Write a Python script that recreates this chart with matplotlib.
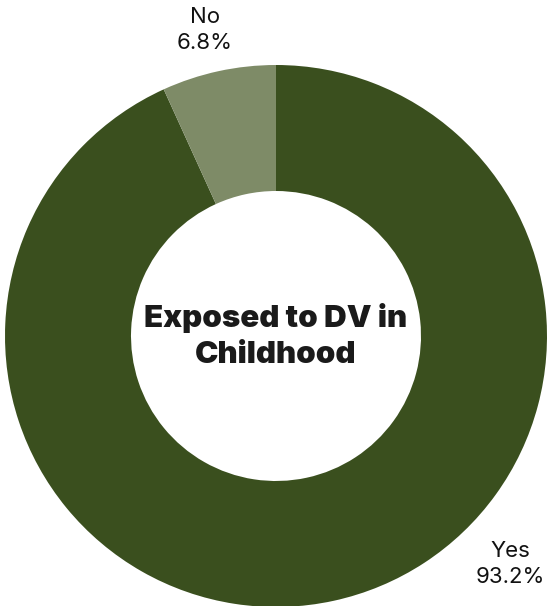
import matplotlib
matplotlib.use("Agg")
import matplotlib.pyplot as plt

labels = ["Yes", "No"]
shares = [93.2, 6.8]
colors = ["#3a4f1e", "#7e8b67"]

W, H = 547, 606
fig = plt.figure(figsize=(W / 100, H / 100), dpi=100)
ax = fig.add_axes([0, 0, 1, 1])

cx, cy, r = 276, H - 336, 271
ax.pie(shares, colors=colors, startangle=90, counterclock=False,
       center=(cx, cy), radius=r,
       wedgeprops=dict(width=r - 145, linewidth=0))
ax.set_xlim(0, W)
ax.set_ylim(0, H)
ax.set_aspect("equal")
ax.axis("off")

ax.text(cx, cy, "Exposed to DV in\nChildhood", ha="center", va="center",
        fontsize=22.5, fontweight="black", family=["Inter", "DejaVu Sans"],
        color="#1a1a1a", linespacing=1.4)

ax.text(205, H - 30, f"{labels[1]}\n{shares[1]}%", ha="center", va="center",
        fontsize=16, family=["Inter", "DejaVu Sans"], color="#111111",
        linespacing=1.35)
ax.text(510, H - 564, f"{labels[0]}\n{shares[0]}%", ha="center", va="center",
        fontsize=16, family=["Inter", "DejaVu Sans"], color="#111111",
        linespacing=1.35)

fig.savefig("out.png", dpi=100)
